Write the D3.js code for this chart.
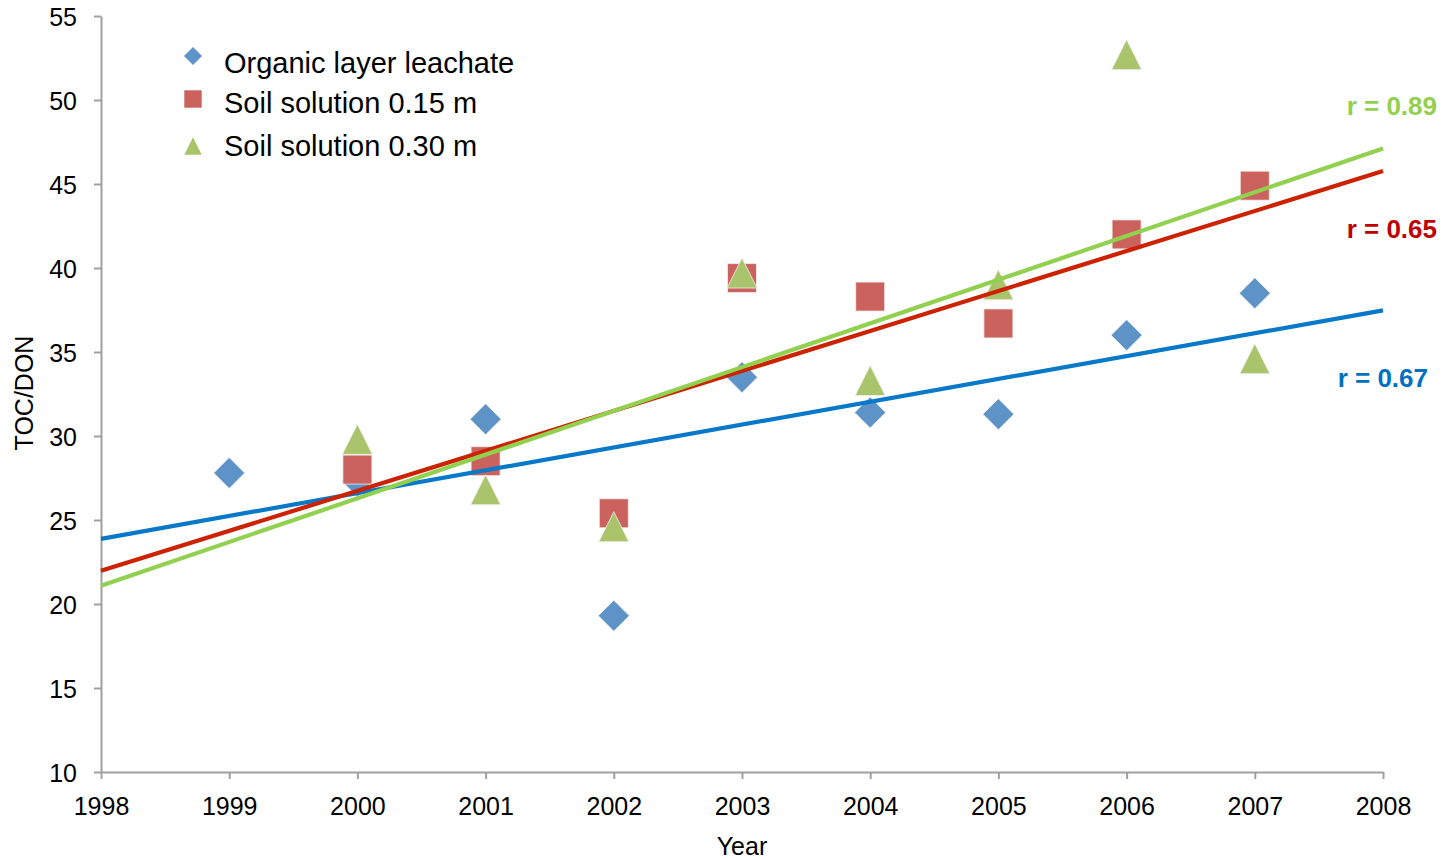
<!DOCTYPE html>
<html>
<head>
<meta charset="utf-8">
<script src="https://cdn.jsdelivr.net/npm/d3@7"></script>
<style>
  html, body { margin: 0; padding: 0; background: #fff; }
  svg { display: block; font-family: "Liberation Sans", Arial, sans-serif; }
</style>
</head>
<body>
<svg id="chart" width="1450" height="860"></svg>
<script>
// TOC/DON ratio per year for three sampling depths
const years = [1999, 2000, 2001, 2002, 2003, 2004, 2005, 2006, 2007];
const organicLeachate = [27.8, 27.3, 31.0, 19.3, 33.5, 31.4, 31.3, 36.0, 38.5];
const soil015 = [null, 28.0, 28.5, 25.4, 39.4, 38.3, 36.7, 42.0, 44.9];
const soil030 = [null, 29.8, 26.8, 24.6, 39.7, 33.3, 39.0, 52.7, 34.6];

const seriesNames = ["Organic layer leachate", "Soil solution 0.15 m", "Soil solution 0.30 m"];
const rLabels = ["r = 0.67", "r = 0.89", "r = 0.65"];

const xTicks = [1998, 1999, 2000, 2001, 2002, 2003, 2004, 2005, 2006, 2007, 2008];
const yTicks = [10, 15, 20, 25, 30, 35, 40, 45, 50, 55];

// Marker shapes; "size" is the half-extent in pixels
const diamond = { draw(ctx, r) { ctx.moveTo(0, -r); ctx.lineTo(r, 0); ctx.lineTo(0, r); ctx.lineTo(-r, 0); ctx.closePath(); } };
const square = { draw(ctx, r) { ctx.rect(-r, -r, 2 * r, 2 * r); } };
const triangle = { draw(ctx, r) { ctx.moveTo(0, -r); ctx.lineTo(r, r); ctx.lineTo(-r, r); ctx.closePath(); } };

const series = [
  { name: seriesNames[0], values: organicLeachate, symbol: diamond, half: 15.5, fill: "#5e93c8",
    line: "#0878c8", rLabel: rLabels[0], rColor: "#0070c0" },
  { name: seriesNames[1], values: soil015, symbol: square, half: 14.5, fill: "#cb625d",
    line: "#92d050", rLabel: rLabels[1], rColor: "#92d050" },
  { name: seriesNames[2], values: soil030, symbol: triangle, half: 15, fill: "#a9c46a",
    line: "#cc2200", rLabel: rLabels[2], rColor: "#c00000" }
];

const svg = d3.select("#chart");
const frame = { left: 101, right: 1383, top: 16, bottom: 772 };

const x = d3.scaleLinear().domain([1998, 2008]).range([frame.left, frame.right]);
const y = d3.scaleLinear().domain([10, 55]).range([frame.bottom, frame.top]);

const axisColor = "#a0a0a0";
const tickFont = 25;

// X axis
const gx = svg.append("g")
  .attr("transform", `translate(0,${frame.bottom})`)
  .call(d3.axisBottom(x).tickValues(xTicks).tickFormat(d3.format("d")).tickSize(7).tickSizeOuter(0));
gx.select(".domain").attr("stroke", axisColor).attr("stroke-width", 2);
gx.selectAll(".tick line").attr("stroke", axisColor).attr("stroke-width", 2);
gx.selectAll(".tick text").attr("font-size", tickFont).attr("fill", "#000")
  .attr("y", 43).attr("dy", null)
  .attr("font-family", "Liberation Sans, Arial, sans-serif");

// Y axis
const gy = svg.append("g")
  .attr("transform", `translate(${frame.left},0)`)
  .call(d3.axisLeft(y).tickValues(yTicks).tickSize(7).tickSizeOuter(0));
gy.select(".domain").attr("stroke", axisColor).attr("stroke-width", 2);
gy.selectAll(".tick line").attr("stroke", axisColor).attr("stroke-width", 2);
gy.selectAll(".tick text").attr("font-size", tickFont).attr("fill", "#000").attr("x", -24)
  .attr("dy", "0.36em")
  .attr("font-family", "Liberation Sans, Arial, sans-serif");

// Axis titles
svg.append("text")
  .attr("x", (frame.left + frame.right) / 2).attr("y", 855)
  .attr("text-anchor", "middle").attr("font-size", 25).attr("fill", "#000")
  .text("Year");
svg.append("text")
  .attr("transform", `translate(33,393) rotate(-90)`)
  .attr("text-anchor", "middle").attr("font-size", 25).attr("fill", "#000")
  .text("TOC/DON");

// Least-squares fit over the available points of a series
function linearFit(vals) {
  const pts = years.map((yr, i) => [yr, vals[i]]).filter(p => p[1] != null);
  const mx = d3.mean(pts, p => p[0]);
  const my = d3.mean(pts, p => p[1]);
  const sxy = d3.sum(pts, p => (p[0] - mx) * (p[1] - my));
  const sxx = d3.sum(pts, p => (p[0] - mx) ** 2);
  const slope = sxy / sxx;
  return xv => my + slope * (xv - mx);
}

// Markers
series.forEach(s => {
  const pts = years.map((yr, i) => ({ yr, v: s.values[i] })).filter(p => p.v != null);
  svg.append("g").selectAll("path")
    .data(pts)
    .join("path")
    .attr("d", d3.symbol().type(s.symbol).size(s.half))
    .attr("transform", p => `translate(${x(p.yr)},${y(p.v)})`)
    .attr("fill", s.fill)
    .attr("stroke", "#f0f0f0").attr("stroke-width", 0.8);
});

// Trend lines (drawn over markers)
const lineGen = d3.line().x(d => x(d[0])).y(d => y(d[1]));
[0, 2, 1].forEach(k => {
  const s = series[k];
  const f = linearFit(s.values);
  svg.append("path")
    .datum([[1998, f(1998)], [2008, f(2008)]])
    .attr("d", lineGen)
    .attr("fill", "none")
    .attr("stroke", s.line)
    .attr("stroke-width", 4.2);
});

// Correlation labels (right edge, baseline)
const rPos = [
  { xr: 1428, yb: 387 },
  { xr: 1437, yb: 115 },
  { xr: 1437, yb: 238 }
];
series.forEach((s, i) => {
  svg.append("text")
    .attr("x", rPos[i].xr).attr("y", rPos[i].yb)
    .attr("text-anchor", "end")
    .attr("font-size", 26).attr("font-weight", "bold")
    .attr("fill", s.rColor)
    .text(s.rLabel);
});

// Legend
const legendRows = [
  { my: 56, ty: 73 },
  { my: 99, ty: 113 },
  { my: 146, ty: 156 }
];
const legend = svg.append("g");
series.forEach((s, i) => {
  legend.append("path")
    .attr("d", d3.symbol().type(s.symbol).size(i === 0 ? 9 : 8.7))
    .attr("transform", `translate(193,${legendRows[i].my})`)
    .attr("fill", s.fill);
  legend.append("text")
    .attr("x", 224).attr("y", legendRows[i].ty)
    .attr("font-size", 29).attr("fill", "#000")
    .text(s.name);
});
</script>
</body>
</html>
